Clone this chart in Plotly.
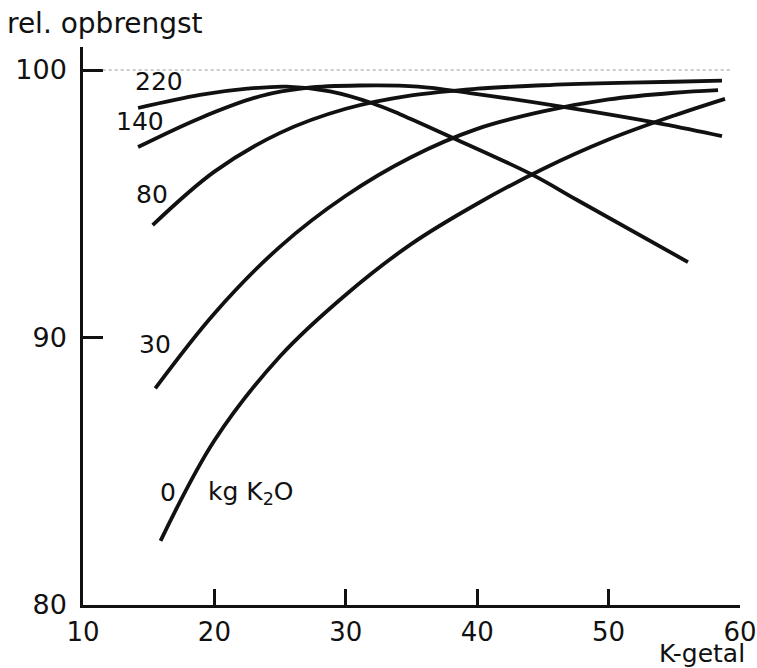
import plotly.graph_objects as go

# K-getal (x) and relative yield (y) for each K2O dose
x_0 = [15.9, 20.0, 25.0, 30.0, 35.0, 40.0, 45.0, 50.0, 55.0, 58.86]
y_0 = [82.4, 86.15, 89.3, 91.6, 93.5, 95.0, 96.3, 97.4, 98.3, 98.92]

x_30 = [15.5, 20.0, 25.0, 30.0, 35.0, 40.0, 45.0, 50.0, 55.0, 58.33]
y_30 = [88.1, 90.9, 93.4, 95.3, 96.75, 97.8, 98.45, 98.9, 99.15, 99.25]

x_80 = [15.3, 20.0, 25.0, 30.0, 35.0, 40.0, 45.0, 50.0, 55.0, 58.63]
y_80 = [94.2, 96.2, 97.65, 98.55, 99.05, 99.3, 99.43, 99.51, 99.56, 99.6]

x_140 = [14.19, 18.9, 23.47, 27.0, 31.0, 35.5, 39.45, 46.53, 54.14, 58.63]
y_140 = [97.12, 98.2, 99.02, 99.33, 99.42, 99.38, 99.14, 98.62, 97.98, 97.53]

x_220 = [14.19, 18.9, 22.5, 25.5, 28.8, 32.07, 34.12, 38.16, 44.25, 47.6, 56.04]
y_220 = [98.58, 99.07, 99.3, 99.38, 99.2, 98.75, 98.35, 97.46, 96.07, 95.14, 92.82]

doses = ["0", "30", "80", "140", "220"]
series = [(x_0, y_0), (x_30, y_30), (x_80, y_80), (x_140, y_140), (x_220, y_220)]

# curve label anchors (data coords)
label_text = ["220", "140", "80", "30", "0"]
label_x = [15.78, 14.30, 15.25, 15.48, 16.47]
label_y = [99.57, 98.09, 95.33, 89.72, 84.22]
unit_text = "kg K<sub>2</sub>O"
unit_x = 19.36
unit_y = 84.2

x_ticks = [10, 20, 30, 40, 50, 60]
y_ticks = [80, 90, 100]

FONT = "DejaVu Sans"
INK = "#111111"

fig = go.Figure()
for name, (xs, ys) in zip(doses, series):
    fig.add_trace(go.Scatter(
        x=xs, y=ys, mode="lines", name=name,
        line=dict(color=INK, width=3.8, shape="spline", smoothing=1.0),
        hoverinfo="skip", showlegend=False,
    ))

fig.add_hline(y=100, x0=0.03, x1=0.985, line=dict(color="#9a9a9a", width=1.2, dash="dot"))

for t, lx, ly in zip(label_text, label_x, label_y):
    fig.add_annotation(x=lx, y=ly, xref="x", yref="y", text=t, showarrow=False,
                       font=dict(family=FONT, size=25, color=INK),
                       xanchor="center", yanchor="middle")
fig.add_annotation(x=unit_x, y=unit_y, xref="x", yref="y", text=unit_text, showarrow=False,
                   font=dict(family=FONT, size=25, color=INK),
                   xanchor="left", yanchor="middle")

fig.add_annotation(x=-0.119, y=1.042, xref="paper", yref="paper", text="rel. opbrengst",
                   showarrow=False, font=dict(family=FONT, size=28, color=INK),
                   xanchor="left", yanchor="middle")
fig.add_annotation(x=1, y=0, xref="paper", yref="paper", text="K-getal",
                   showarrow=False, font=dict(family=FONT, size=25, color=INK),
                   xanchor="right", yanchor="top", xshift=6, yshift=-33, borderpad=0)

fig.update_layout(
    width=757, height=668,
    margin=dict(l=83, r=17, t=47, b=63, autoexpand=False),
    paper_bgcolor="white", plot_bgcolor="white",
    font=dict(family=FONT, color=INK),
)
fig.update_xaxes(
    range=[10, 60], tickvals=x_ticks, ticktext=[str(v) for v in x_ticks],
    showgrid=False, zeroline=False, showline=True, linecolor=INK, linewidth=2.5,
    ticks="inside", ticklen=16, tickwidth=2.5, tickcolor=INK,
    tickfont=dict(family=FONT, size=26, color=INK), ticklabelstandoff=2,
    ticklabeloverflow="allow", automargin=False,
)
fig.update_yaxes(
    range=[80, 100.86], tickvals=y_ticks, ticktext=[str(v) for v in y_ticks],
    showgrid=False, zeroline=False, showline=True, linecolor=INK, linewidth=2.5,
    ticks="inside", ticklen=20, tickwidth=2.5, tickcolor=INK,
    tickfont=dict(family=FONT, size=27, color=INK), ticklabelstandoff=8,
    ticklabeloverflow="allow", automargin=False,
)

fig.write_html(
    "out.html",
    config={"displayModeBar": False},
    post_script="document.body.style.margin='0';document.body.style.overflow='hidden';",
)
